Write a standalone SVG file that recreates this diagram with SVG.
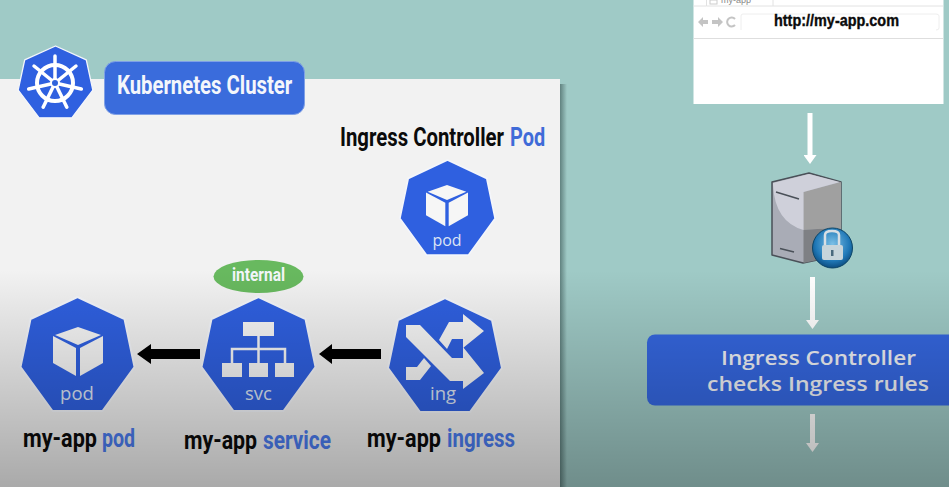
<svg xmlns="http://www.w3.org/2000/svg" width="949" height="487" viewBox="0 0 949 487">
<style>
.h{font-family:"Roboto","Liberation Sans",sans-serif;font-weight:700}
.k{fill:#0b0b0b}.b{fill:#3f6bd8}.bb{fill:#4b7cf0}
.l{font-family:"Open Sans","Liberation Sans",sans-serif;font-size:18.5px;fill:#dde5f4;text-anchor:middle}
.w{font-family:"Open Sans","Liberation Sans",sans-serif;font-weight:600;font-size:20.5px;fill:#f0f2f6}
.g{fill:#c4c4c4}
</style>
<defs>
<linearGradient id="shade" x1="0" y1="0" x2="0" y2="1"><stop offset="0" stop-color="#000" stop-opacity="0"/><stop offset="1" stop-color="#000" stop-opacity=".3"/></linearGradient>
<linearGradient id="edge" x1="0" y1="0" x2="1" y2="0"><stop offset="0" stop-color="#4c6a68" stop-opacity=".75"/><stop offset="1" stop-color="#4c6a68" stop-opacity="0"/></linearGradient>
<radialGradient id="ball" cx=".5" cy=".4" r=".6"><stop offset="0" stop-color="#7cc0e6"/><stop offset=".7" stop-color="#2079b8"/><stop offset="1" stop-color="#0d4d80"/></radialGradient>
<polygon id="hept" points="0,0 47,22 57,70 25,114 -25,114 -57,70 -47,22" fill="#2f60e0" stroke="#f4f6fb" stroke-width="2" stroke-linejoin="round"/>
<g id="cube" fill="#f6f6f6"><polygon points="0,0 23,8 0,18 -23,8"/><polygon points="-25,9 -2,21 -2,49 -25,36"/><polygon points="25,9 2,21 2,49 25,36"/></g>
<marker id="wh" markerUnits="userSpaceOnUse" markerWidth="9" markerHeight="13" refX="0" refY="6.500" orient="auto" viewBox="0 0 9 13"><polygon points="0,0 9,6.500 0,13" fill="#fff"/></marker>
</defs>
<rect width="949" height="487" fill="#9fcac6"/>
<g id="panel"><rect x="560" y="84" width="7" height="403" fill="url(#edge)"/><rect y="79" width="560" height="408" fill="#f2f2f2"/></g>
<g id="cluster-logo"><use href="#hept" transform="translate(55.500 46) scale(.655 .63)"/>
<g transform="translate(55 83)" stroke="#fff" fill="none"><circle r="18" stroke-width="4"/><g stroke-width="3.500" stroke-linecap="round"><line y1="-27" y2="0"/><line y1="-27" y2="0" transform="rotate(51)"/><line y1="-27" y2="0" transform="rotate(103)"/><line y1="-27" y2="0" transform="rotate(154)"/><line y1="-27" y2="0" transform="rotate(206)"/><line y1="-27" y2="0" transform="rotate(257)"/><line y1="-27" y2="0" transform="rotate(309)"/></g><circle r="4" fill="#3164dc" stroke-width="2"/></g></g>
<g id="cluster-label"><rect x="104.500" y="61.500" width="200" height="53" rx="11" fill="#3a6cdc" stroke="#7fa0e6"/><text transform="translate(117 94) scale(.8 1)" class="h" font-size="25" fill="#f4f6fb" textLength="219" lengthAdjust="spacingAndGlyphs">Kubernetes Cluster</text></g>
<g id="controller-label"><text transform="translate(340 146) scale(.8 1)" class="h k" font-size="26" textLength="205" lengthAdjust="spacingAndGlyphs">Ingress Controller</text><text transform="translate(510 146) scale(.8 1)" class="h b" font-size="26" textLength="44" lengthAdjust="spacingAndGlyphs">Pod</text></g>
<g id="controller-pod"><use href="#hept" transform="translate(447.500 160) scale(.835)"/><use href="#cube" transform="translate(447 185) scale(.84)"/><text x="447" y="246" class="l" style="font-size:16px">pod</text></g>
<g id="pod"><use href="#hept" transform="translate(77.500 297)"/><use href="#cube" transform="translate(78 327)"/><text x="77" y="400" class="l">pod</text>
<text transform="translate(23 447) scale(.85 1)" class="h k" font-size="25" textLength="87" lengthAdjust="spacingAndGlyphs">my-app</text><text transform="translate(102 447) scale(.85 1)" class="h bb" font-size="25" textLength="39" lengthAdjust="spacingAndGlyphs">pod</text></g>
<g id="service"><ellipse cx="258.500" cy="276.500" rx="45" ry="16.500" fill="#68b95f"/><text x="258.500" y="281" class="h" font-size="18" fill="#f4f6fb" text-anchor="middle" textLength="53" lengthAdjust="spacingAndGlyphs">internal</text>
<use href="#hept" transform="translate(258.500 297)"/>
<g fill="#f6f6f6"><rect x="243" y="322" width="31" height="14"/><rect x="222" y="363" width="20" height="14"/><rect x="249" y="363" width="19" height="14"/><rect x="275" y="363" width="19" height="14"/></g>
<path d="M258.500 336V349M232 363V349H285V363M258.500 349V363" fill="none" stroke="#f6f6f6" stroke-width="2.500"/>
<text x="258.500" y="400" class="l">svc</text>
<text transform="translate(184 449) scale(.85 1)" class="h k" font-size="25" textLength="86" lengthAdjust="spacingAndGlyphs">my-app</text><text transform="translate(263 449) scale(.85 1)" class="h bb" font-size="25" textLength="80" lengthAdjust="spacingAndGlyphs">service</text></g>
<g id="ingress"><use href="#hept" transform="translate(445 298)"/>
<g fill="#f6f6f6"><path d="M406 325H420L452 358H463V347L484 373 463 389V381H450L406 337Z"/><path d="M406 367H417L424 358 431 366 420 380H406Z"/><path d="M439 340L449 322H463V314L484 331 463 348V339H452L447 349Z"/></g>
<text x="443" y="400" class="l">ing</text>
<text transform="translate(367 447) scale(.85 1)" class="h k" font-size="25" textLength="87" lengthAdjust="spacingAndGlyphs">my-app</text><text transform="translate(447 447) scale(.85 1)" class="h bb" font-size="25" textLength="80" lengthAdjust="spacingAndGlyphs">ingress</text></g>
<g id="connectors">
<polygon points="137,354 151,344 151,349 200,349 200,359 151,359 151,364" fill="#000"/>
<polygon points="319,354 332,344 332,349 381,349 381,359 332,359 332,364" fill="#000"/>
<line x1="810" y1="113" x2="810" y2="155" stroke="#fff" stroke-width="5" marker-end="url(#wh)"/>
<line x1="812.500" y1="277" x2="812.500" y2="320" stroke="#fff" stroke-width="5" marker-end="url(#wh)"/>
<line x1="812.500" y1="414" x2="812.500" y2="443" stroke="#fff" stroke-width="5" marker-end="url(#wh)"/>
</g>
<g id="browser"><rect x="693.500" width="250" height="104" fill="#fff"/>
<path d="M693.500 6H706.500V0M706.500 6H773V0M773 6H943" fill="none" stroke="#e2e2e2"/><rect x="710" y="0" width="7" height="4" fill="none" stroke="#ccc"/>
<text x="721" y="3" font-family="Liberation Sans,sans-serif" font-size="9" fill="#888">my-app</text>
<line x1="693.500" y1="38.500" x2="943" y2="38.500" stroke="#dedede"/>
<polygon class="g" points="698,22 703,17 703,20 708,20 708,24 703,24 703,27"/><polygon class="g" points="723,22 718,17 718,20 712,20 712,24 718,24 718,27"/>
<path d="M735 19A4.500 4.500 0 1 0 735 25" fill="none" stroke="#c4c4c4" stroke-width="2"/>
<path d="M741 30V16Q741 14 743 14H936Q939 14 939 16V28Q939 30 936 30" fill="none" stroke="#eee"/>
<text x="774" y="26" font-family="Liberation Sans,sans-serif" font-weight="700" font-size="17" fill="#0b0b0b" stroke="#0b0b0b" stroke-width=".4" textLength="125" lengthAdjust="spacingAndGlyphs">http://my-app.com</text></g>
<g id="server"><polygon points="772,182 809,173 841,182 841,255 803,263 772,255" fill="#a9acb6" stroke="#4a5058" stroke-width="1.500" stroke-linejoin="round"/>
<path d="M803.500 192L841 182V229Q825 228 803.500 230Z" fill="#a0a0a0"/><path d="M773 183L809 174 840 182 803.500 192 803.500 230Q775 222 773 185Z" fill="#cfd0da"/><path d="M803.500 230Q825 228 841 229V255L803.500 263Z" fill="#7e8084"/>
<line x1="776" y1="192" x2="799" y2="199" stroke="#4a5058" stroke-width="1.500"/><line x1="780" y1="248.500" x2="794" y2="252" stroke="#4a5058" stroke-width="1.500"/>
<circle cx="832.500" cy="248" r="20" fill="url(#ball)" stroke="#0d4668" stroke-width="1"/>
<path d="M825 245V235Q825 231 832 231 839 231 839 235V245" fill="none" stroke="#d8dfe4" stroke-width="2.500"/>
<rect x="822" y="245" width="21" height="15" rx="2" fill="#c7d5db"/><rect x="831" y="250" width="2.500" height="6" fill="#4a6a7e"/></g>
<g id="controller-check"><rect x="647" y="334.500" width="310" height="71" rx="8" fill="#3567e0"/>
<text x="818.500" y="365" class="w" text-anchor="middle" textLength="195" lengthAdjust="spacingAndGlyphs">Ingress Controller</text>
<text x="818" y="391" class="w" text-anchor="middle" textLength="222" lengthAdjust="spacingAndGlyphs">checks Ingress rules</text></g>
<rect y="270" width="949" height="217" fill="url(#shade)"/>
</svg>
